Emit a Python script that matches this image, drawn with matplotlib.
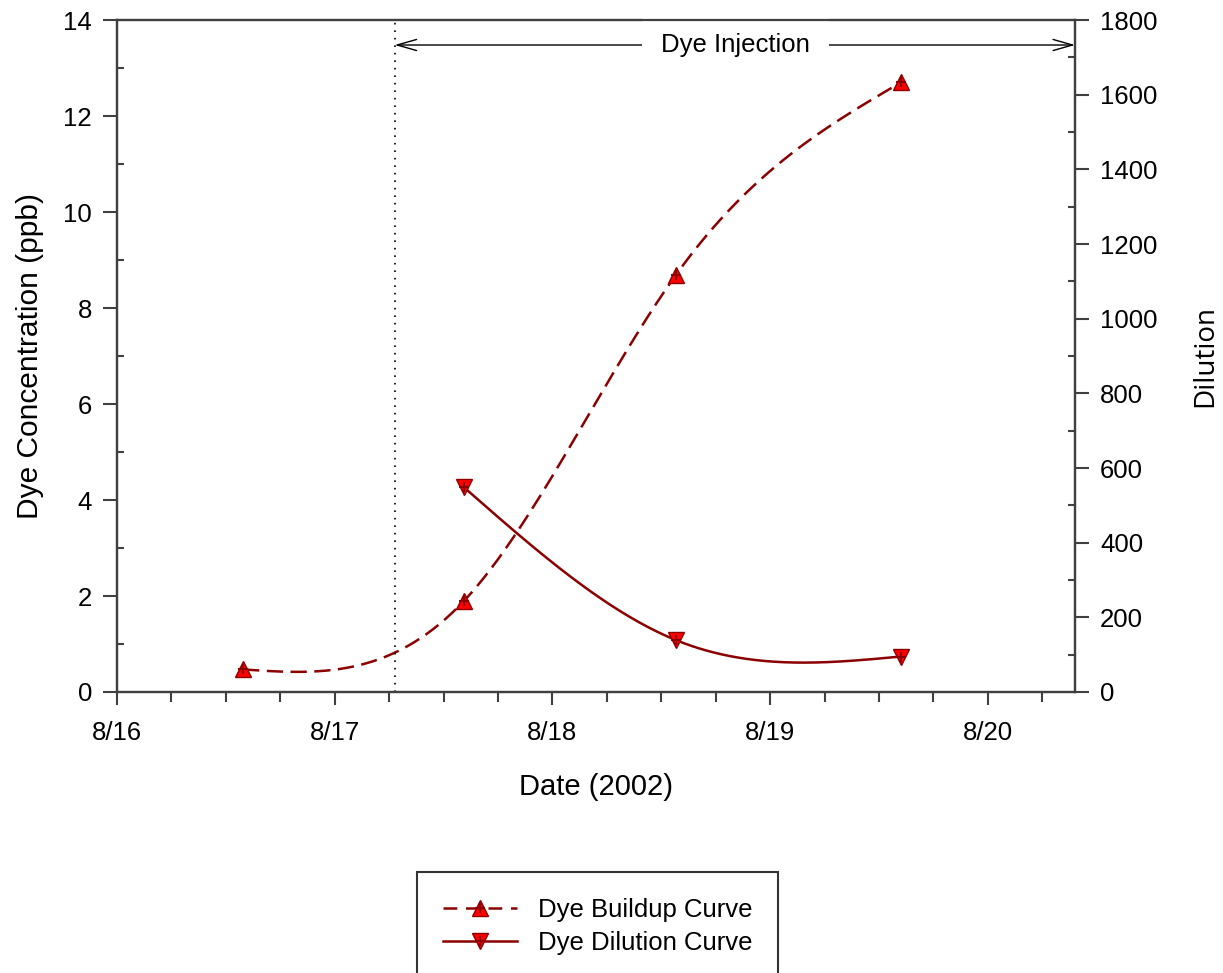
import matplotlib
matplotlib.use('Agg')
import matplotlib.pyplot as plt
from matplotlib.lines import Line2D
from matplotlib.ticker import MultipleLocator
import numpy as np

plt.rcParams['font.family'] = ['Liberation Sans', 'DejaVu Sans']

# days after 8/16 00:00
buildup_days = [0.579, 1.594, 2.567, 3.600]
buildup_ppb = [0.47, 1.90, 8.69, 12.70]

dilution_days = [1.594, 2.567, 3.600]
dilution_vals = [548, 139, 95]

injection_start = 1.275
date_ticks = [0, 1, 2, 3, 4]
date_labels = ['8/16', '8/17', '8/18', '8/19', '8/20']

line_col = '#8b0000'
marker_col = '#ff0000'
spine_col = '#404040'


def natural_spline(x, y, n=300):
    # smooth curve through the points, like the spline line of the original
    x = np.asarray(x, float)
    y = np.asarray(y, float)
    k = len(x)
    h = np.diff(x)
    M = np.zeros(k)
    if k > 2:
        A = np.zeros((k - 2, k - 2))
        b = np.zeros(k - 2)
        for i in range(1, k - 1):
            A[i - 1, i - 1] = 2 * (h[i - 1] + h[i])
            if i > 1:
                A[i - 1, i - 2] = h[i - 1]
            if i < k - 2:
                A[i - 1, i] = h[i]
            b[i - 1] = 6 * ((y[i + 1] - y[i]) / h[i] - (y[i] - y[i - 1]) / h[i - 1])
        M[1:-1] = np.linalg.solve(A, b)
    xs = np.linspace(x[0], x[-1], n)
    j = np.clip(np.searchsorted(x, xs) - 1, 0, k - 2)
    t1 = x[j + 1] - xs
    t0 = xs - x[j]
    hj = h[j]
    ys = (M[j] * t1 ** 3 / (6 * hj) + M[j + 1] * t0 ** 3 / (6 * hj)
          + (y[j] / hj - M[j] * hj / 6) * t1 + (y[j + 1] / hj - M[j + 1] * hj / 6) * t0)
    return xs, ys


fig = plt.figure(figsize=(12.23, 9.73), dpi=100)
ax = fig.add_axes([0.0957, 0.2888, 0.7833, 0.6906])
ax2 = ax.twinx()

dash = (6.5, 3)

# buildup curve (left axis)
bx, by = natural_spline(buildup_days, buildup_ppb)
ax.plot(bx, by, color=line_col, lw=1.8, dashes=dash)
ax.plot(buildup_days, buildup_ppb, ls='none', marker='^', ms=12,
        mfc=marker_col, mec=line_col, mew=1)
ax.plot(buildup_days, buildup_ppb, ls='none', marker='+', ms=7,
        mec=line_col, mew=1.5)

# dilution curve (right axis)
dx, dy = natural_spline(dilution_days, dilution_vals)
ax2.plot(dx, dy, color=line_col, lw=1.8)
ax2.plot(dilution_days, dilution_vals, ls='none', marker='v', ms=12,
         mfc=marker_col, mec=line_col, mew=1)
ax2.plot(dilution_days, dilution_vals, ls='none', marker='+', ms=7,
         mec=line_col, mew=1.5)

# injection marker
ax.axvline(injection_start, color='black', lw=1.2, dashes=(1, 3.5))
ax.annotate('', xy=(4.4, 13.48), xytext=(injection_start, 13.48),
            arrowprops=dict(arrowstyle='<->, head_length=0.7, head_width=0.2',
                            color='black', lw=1, shrinkA=0, shrinkB=0,
                            mutation_scale=20))
ax.text(2.84, 13.48, 'Dye Injection', ha='center', va='center', fontsize=18.5,
        zorder=5, bbox=dict(boxstyle='square,pad=0.75', fc='white', ec='none'))

ax.set_xlim(0, 4.4)
ax.set_ylim(0, 14)
ax2.set_ylim(0, 1800)
ax.set_xticks(date_ticks)
ax.set_xticklabels(date_labels)
ax.xaxis.set_minor_locator(MultipleLocator(0.25))
ax.yaxis.set_major_locator(MultipleLocator(2))
ax.yaxis.set_minor_locator(MultipleLocator(1))
ax2.yaxis.set_major_locator(MultipleLocator(200))
ax2.yaxis.set_minor_locator(MultipleLocator(100))

for a in (ax, ax2):
    for s in a.spines.values():
        s.set_color(spine_col)
        s.set_linewidth(1.6)
    a.tick_params(which='major', color=spine_col, width=1.5, labelsize=18.5)
    a.tick_params(axis='y', which='major', direction='out', length=10, pad=8)
    a.tick_params(axis='y', which='minor', direction='in', length=5, width=1.5,
                  color=spine_col)
ax.tick_params(axis='x', which='major', direction='out', length=9, pad=12)
ax.tick_params(axis='x', which='minor', direction='out', length=7, width=1.5,
               color=spine_col)

ax.set_xlabel('Date (2002)', fontsize=21, labelpad=20)
ax.set_ylabel('Dye Concentration (ppb)', fontsize=21.5, labelpad=14)
ax2.set_ylabel('Dilution', fontsize=20, labelpad=24, family=['Open Sans', 'DejaVu Sans'])

# legend below the plot
h1 = (Line2D([], [], color=line_col, lw=1.8, dashes=(5.5, 3.5), marker='^', ms=12,
             mfc=marker_col, mec=line_col, mew=1),
      Line2D([], [], ls='none', marker='+', ms=7, mec=line_col, mew=1.5))
h2 = (Line2D([], [], color=line_col, lw=1.8, marker='v', ms=12,
             mfc=marker_col, mec=line_col, mew=1),
      Line2D([], [], ls='none', marker='+', ms=7, mec=line_col, mew=1.5))
leg = fig.legend([h1, h2], ['Dye Buildup Curve', 'Dye Dilution Curve'],
                 loc='upper left', bbox_to_anchor=(0.341, 0.1038),
                 fontsize=18.5, frameon=True, fancybox=False, edgecolor='black',
                 handlelength=2.9, handletextpad=0.8, labelspacing=0.35,
                 borderpad=1.0, borderaxespad=0, numpoints=1)
leg.get_frame().set_linewidth(1.5)

fig.set_facecolor('white')
fig.savefig('out.png', dpi=100)
